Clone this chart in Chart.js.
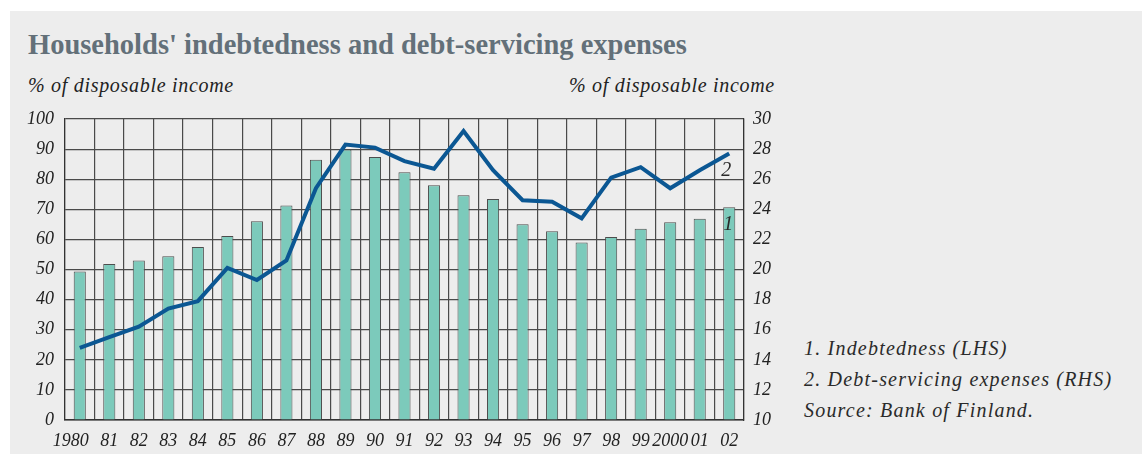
<!DOCTYPE html>
<html>
<head>
<meta charset="utf-8">
<script src="https://cdn.jsdelivr.net/npm/chart.js@4/dist/chart.umd.min.js"></script>
<style>
  html, body { margin: 0; padding: 0; background: #ffffff; }
  body { width: 1142px; height: 454px; position: relative; overflow: hidden; font-family: "Liberation Serif", "DejaVu Serif", serif; }
  #panel { position: absolute; left: 10px; top: 11px; width: 1132px; height: 443px; background: #ededed; }
  #title { position: absolute; left: 28px; top: 29px; font-size: 28.5px; font-weight: bold; color: #637079; white-space: nowrap; }
  .unit { position: absolute; top: 74px; font-size: 20px; letter-spacing: 0.7px; font-style: italic; color: #222; white-space: nowrap; }
  #unitL { left: 28px; }
  #unitR { left: 569px; }
  #notes { position: absolute; left: 804px; top: 333px; font-size: 20px; letter-spacing: 1.2px; font-style: italic; color: #2a2a2a; line-height: 31px; white-space: nowrap; }
  #wrap { position: absolute; left: 0; top: 0; width: 800px; height: 454px; }
</style>
</head>
<body>
<div id="panel"></div>
<div id="title">Households' indebtedness and debt-servicing expenses</div>
<div class="unit" id="unitL">% of disposable income</div>
<div class="unit" id="unitR">% of disposable income</div>
<div id="notes">1. Indebtedness (LHS)<br>2. Debt-servicing expenses (RHS)<br>Source: Bank of Finland.</div>
<div id="wrap"><canvas id="chart" width="800" height="454"></canvas></div>
<script>
// Years 1980–2002, shown as two-digit labels except for 1980 and 2000
const years = ["1980","81","82","83","84","85","86","87","88","89","90","91","92","93","94","95","96","97","98","99","2000","01","02"];
// 1. Indebtedness, % of disposable income (left axis)
const indebtedness = [49.3, 51.8, 53.0, 54.4, 57.5, 61.1, 66.0, 71.3, 86.5, 89.9, 87.4, 82.3, 78.0, 74.7, 73.4, 65.0, 62.7, 59.0, 60.8, 63.5, 65.7, 66.9, 70.7];
// 2. Debt-servicing expenses, % of disposable income (right axis)
const debtService = [14.8, 15.5, 16.2, 17.4, 17.9, 20.1, 19.3, 20.6, 25.4, 28.3, 28.1, 27.2, 26.7, 29.2, 26.6, 24.6, 24.5, 23.4, 26.1, 26.8, 25.4, 26.6, 27.7];
// Axis tick values
const leftTicks = [0, 10, 20, 30, 40, 50, 60, 70, 80, 90, 100];
const rightTicks = [10, 12, 14, 16, 18, 20, 22, 24, 26, 28, 30];

const tickFont = { family: "'Liberation Serif', serif", size: 18, style: 'italic' };
const gridColor = '#4a4a4a';

// Small series numbers written next to the last data points
const seriesTags = {
  id: 'seriesTags',
  afterDatasetsDraw(chart) {
    const ctx = chart.ctx;
    const x = chart.scales.x;
    const yl = chart.scales.y;
    const yr = chart.scales.y1;
    const last = years.length - 1;
    ctx.save();
    ctx.font = "italic 20px 'Liberation Serif', serif";
    ctx.fillStyle = '#2a2a2a';
    ctx.textAlign = 'center';
    ctx.textBaseline = 'middle';
    ctx.fillText('1', x.getPixelForValue(last) - 1, yl.getPixelForValue(indebtedness[last]) + 18);
    ctx.fillText('2', x.getPixelForValue(last) - 3, yr.getPixelForValue(debtService[last]) + 17);
    ctx.restore();
  }
};

new Chart(document.getElementById('chart'), {
  type: 'bar',
  data: {
    labels: years,
    datasets: [
      {
        type: 'line',
        label: '2. Debt-servicing expenses (RHS)',
        data: debtService,
        yAxisID: 'y1',
        borderColor: '#0b5793',
        borderWidth: 4,
        pointRadius: 0,
        tension: 0,
        borderJoinStyle: 'miter',
        order: 0
      },
      {
        type: 'bar',
        label: '1. Indebtedness (LHS)',
        data: indebtedness,
        yAxisID: 'y',
        backgroundColor: '#7ccabb',
        borderColor: '#4d4d4d',
        borderWidth: 1,
        categoryPercentage: 1,
        barPercentage: 0.41,
        order: 1
      }
    ]
  },
  options: {
    responsive: false,
    animation: false,
    devicePixelRatio: 1,
    layout: { padding: { left: 0, right: 0, top: 119, bottom: 0 } },
    plugins: {
      legend: { display: false },
      tooltip: { enabled: false },
      title: { display: false }
    },
    scales: {
      x: {
        offset: true,
        grid: { offset: true, color: gridColor, lineWidth: 1.2, drawTicks: false },
        border: { color: '#333', width: 1.5 },
        ticks: {
          font: tickFont, color: '#222', padding: 10, maxRotation: 0, autoSkip: false,
          // the first (four-digit) year sits a little left of its bar
          callback(v, i) { return i === 0 ? years[i] + '\u2002\u2002' : years[i]; }
        },
        afterFit(s) { s.height = 34; }
      },
      y: {
        position: 'left',
        min: 0, max: 100,
        afterBuildTicks(s) { s.ticks = leftTicks.map(v => ({ value: v })); },
        grid: { color: gridColor, lineWidth: 1.2, drawTicks: false },
        border: { color: '#333', width: 1.2 },
        ticks: { font: tickFont, color: '#222', padding: 11 },
        afterFit(s) { s.width = 65; }
      },
      y1: {
        position: 'right',
        min: 10, max: 30,
        afterBuildTicks(s) { s.ticks = rightTicks.map(v => ({ value: v })); },
        grid: { drawOnChartArea: false, drawTicks: false },
        border: { color: '#333', width: 1.2 },
        ticks: { font: tickFont, color: '#222', padding: 9 },
        afterFit(s) { s.width = 56; }
      }
    }
  },
  plugins: [seriesTags]
});
</script>
</body>
</html>
